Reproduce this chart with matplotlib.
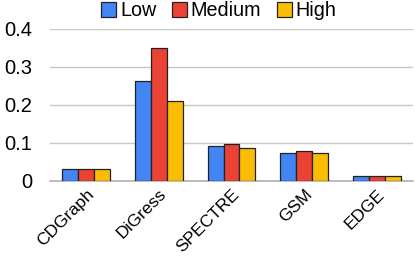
import numpy as np
import matplotlib.pyplot as plt
from matplotlib.ticker import FuncFormatter
from matplotlib.patches import Patch

plt.rcParams['font.family'] = ['Liberation Sans', 'DejaVu Sans']

models = ['CDGraph', 'DiGress', 'SPECTRE', 'GSM', 'EDGE']
low = [0.031, 0.264, 0.092, 0.075, 0.014]
medium = [0.031, 0.349, 0.097, 0.079, 0.012]
high = [0.031, 0.210, 0.088, 0.075, 0.014]
series = ['Low', 'Medium', 'High']
colors = ['#4285F4', '#EA4335', '#FBBC04']

fig = plt.figure(figsize=(4.15, 2.56), dpi=100)
ax = fig.add_axes([50 / 415, 1 - 181 / 256, 363 / 415, 152 / 256])

x = np.arange(len(models))
w = 0.22
for i, (vals, c) in enumerate(zip([low, medium, high], colors)):
    ax.bar(x + (i - 1) * w, vals, w, color=c, edgecolor='#222222', linewidth=0.9, zorder=3)

ax.set_xlim(-0.5, len(models) - 0.5)
ax.set_ylim(0, 0.4)
ax.set_yticks([0, 0.1, 0.2, 0.3, 0.4])
ax.yaxis.set_major_formatter(FuncFormatter(lambda v, p: '0' if v == 0 else f'{v:.1f}'))
ax.grid(axis='y', color='#c8c8c8', linewidth=1, zorder=0)
for s in ['left', 'right', 'top']:
    ax.spines[s].set_visible(False)
ax.spines['bottom'].set_color('#b0b0b0')
ax.spines['bottom'].set_linewidth(1.2)
ax.tick_params(axis='y', length=0, pad=13, labelsize=14.5)
ax.tick_params(axis='x', length=0, pad=4, labelsize=12.5)
ax.set_xticks(x)
ax.set_xticklabels(models, rotation=45, ha='right', rotation_mode='anchor')

handles = [Patch(facecolor=c, edgecolor='#222222', linewidth=0.9) for c in colors]
fig.legend(handles, series, loc='center', bbox_to_anchor=(219 / 415, 1 - 11 / 256),
           ncol=3, frameon=False, fontsize=14.2, handlelength=0.75, handleheight=0.75,
           handletextpad=0.2, columnspacing=0.8, borderpad=0)

fig.savefig('out.png', dpi=100)
